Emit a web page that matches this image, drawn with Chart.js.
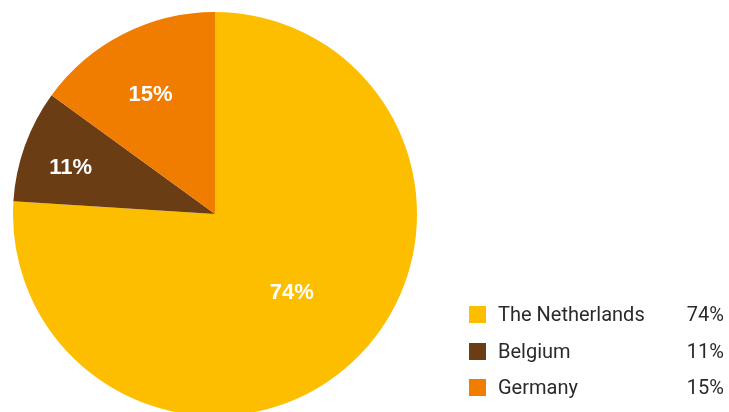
<!DOCTYPE html>
<html>
<head>
<meta charset="utf-8">
<script src="https://cdn.jsdelivr.net/npm/chart.js@4"></script>
<style>
    html, body { margin: 0; padding: 0; background: #fff; overflow: hidden; }
    #wrap { width: 729px; height: 412px; overflow: hidden; position: relative; }
</style>
</head>
<body>
<div id="wrap">
    <canvas id="pais-chart" width="729" height="430"></canvas>
</div>
<script>
// Datos del gráfico (tamaño de las porciones, etiquetas tal como aparecen)
const paises = ["The Netherlands", "Belgium", "Germany"];
const valores = [76, 9, 15];
const etiquetas = ["74%", "11%", "15%"];
const colores = ["#FDBE00", "#6A3D14", "#F07D00"];

// Etiquetas blancas dentro de cada porción
const etiquetasPlugin = {
    id: "etiquetas",
    afterDatasetsDraw(chart, args, opts) {
        const ctx = chart.ctx;
        const arcs = chart.getDatasetMeta(0).data;
        ctx.save();
        ctx.fillStyle = "#ffffff";
        ctx.font = "bold 22px 'Liberation Sans', Arial, sans-serif";
        ctx.textAlign = "center";
        ctx.textBaseline = "middle";
        arcs.forEach((arc, i) => {
            const mid = (arc.startAngle + arc.endAngle) / 2 + opts.giros[i] * Math.PI / 180;
            const r = arc.outerRadius * opts.radios[i];
            ctx.fillText(etiquetas[i], arc.x + Math.cos(mid) * r, arc.y + Math.sin(mid) * r);
        });
        ctx.restore();
    }
};

// Leyenda a la derecha con porcentajes alineados
const leyendaPlugin = {
    id: "leyenda",
    afterDraw(chart, args, opts) {
        const ctx = chart.ctx;
        ctx.save();
        ctx.font = "20px Roboto, sans-serif";
        ctx.textBaseline = "alphabetic";
        paises.forEach((pais, i) => {
            const y = opts.base + i * opts.step;
            ctx.fillStyle = colores[i];
            ctx.fillRect(opts.left, Math.round(y) - 15, 17, 17);
            ctx.fillStyle = "#2a2a2a";
            ctx.textAlign = "left";
            ctx.fillText(pais, opts.left + 29, y);
            ctx.textAlign = "right";
            ctx.fillText(etiquetas[i], opts.right, y);
        });
        ctx.restore();
    }
};

const ctx = document.getElementById("pais-chart").getContext("2d");
new Chart(ctx, {
    type: "pie",
    data: {
        labels: paises,
        datasets: [{
            data: valores,
            backgroundColor: colores,
            borderWidth: 0,
            hoverOffset: 0
        }]
    },
    options: {
        responsive: false,
        animation: false,
        events: [],
        layout: { padding: { left: 13, top: 12, right: 312, bottom: 14 } },
        plugins: {
            legend: { display: false },
            tooltip: { enabled: false },
            etiquetas: { radios: [0.545, 0.75, 0.67], giros: [-1, -2, -1.5] },
            leyenda: { left: 469, base: 321, step: 36.7, right: 724 }
        }
    },
    plugins: [etiquetasPlugin, leyendaPlugin]
});
</script>
</body>
</html>
